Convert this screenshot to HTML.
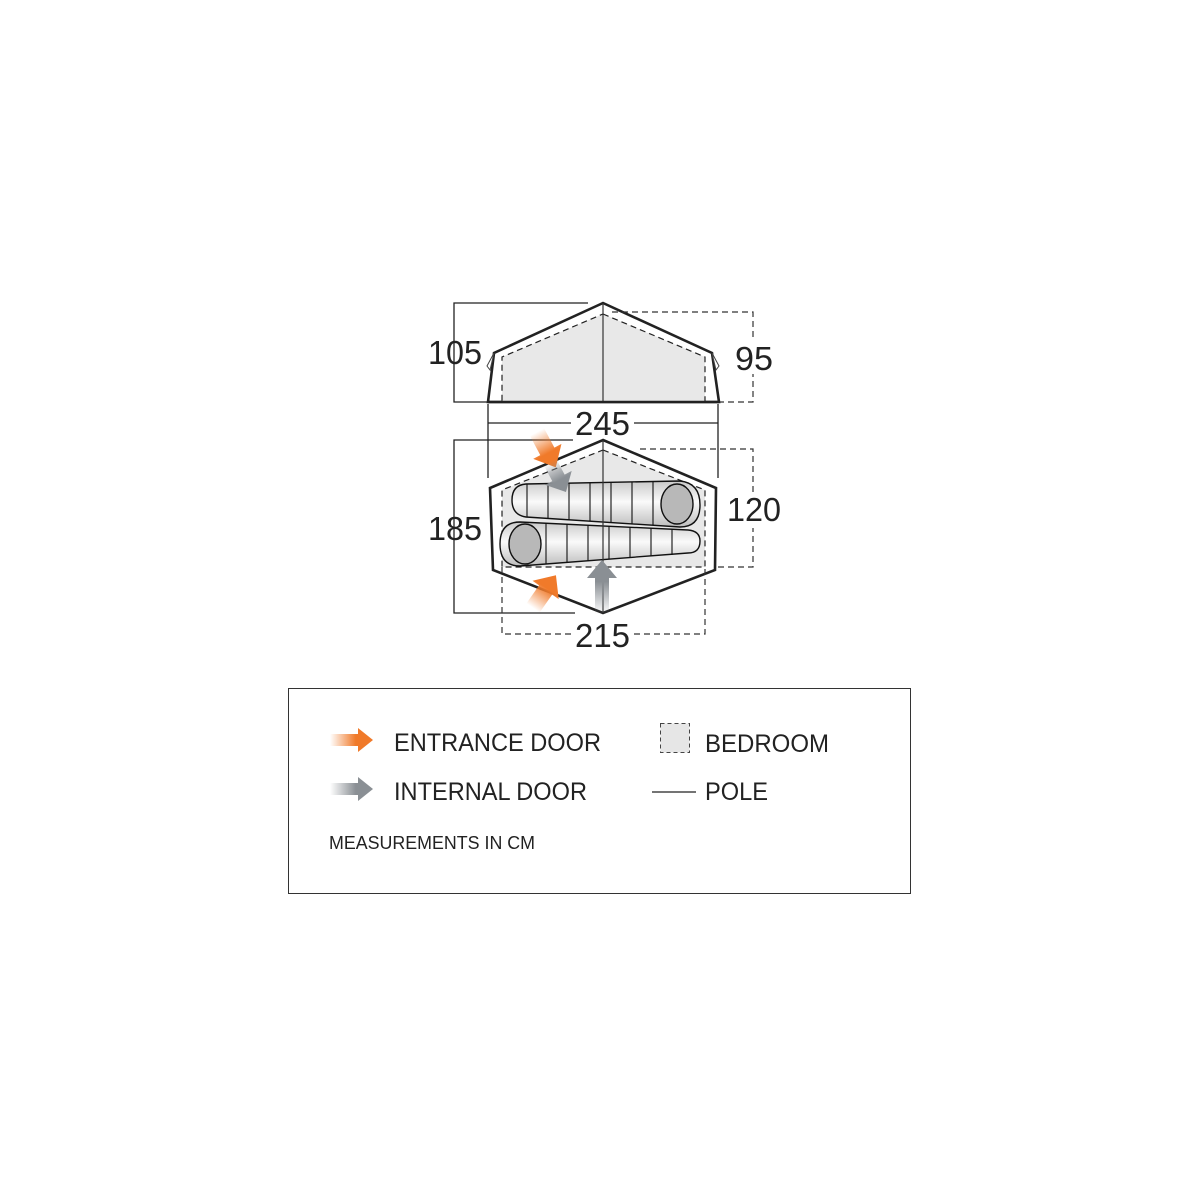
<!DOCTYPE html>
<html><head><meta charset="utf-8"><style>html,body{margin:0;padding:0;background:#fff}svg{display:block}</style></head>
<body>
<svg width="1200" height="1200" viewBox="0 0 1200 1200" xmlns="http://www.w3.org/2000/svg" font-family="Liberation Sans, sans-serif">
<defs>
<linearGradient id="bag" x1="0" y1="0" x2="0" y2="1"><stop offset="0" stop-color="#c9c9c9"/><stop offset="0.45" stop-color="#fafafa"/><stop offset="1" stop-color="#bdbdbd"/></linearGradient>
<linearGradient id="org" x1="0" y1="0" x2="1" y2="0"><stop offset="0" stop-color="#f07a2a" stop-opacity="0"/><stop offset="0.6" stop-color="#f07a2a"/><stop offset="1" stop-color="#f07a2a"/></linearGradient>
<linearGradient id="gry" x1="0" y1="0" x2="1" y2="0"><stop offset="0" stop-color="#8a8f94" stop-opacity="0"/><stop offset="0.6" stop-color="#8a8f94"/><stop offset="1" stop-color="#8a8f94"/></linearGradient>
</defs>

<g stroke="#222" stroke-width="1.3" fill="none">
<polyline points="588,303 454,303 454,402 488,402"/>
</g>
<polygon points="603,303 712,353 719,402 488,402 494,353" fill="#fff" stroke="#222" stroke-width="2.6"/>
<polygon points="603,314 705,357 705,402 502,402 502,357" fill="#e8e8e8" stroke="#222" stroke-width="1.2" stroke-dasharray="6,4"/>
<path d="M494,353 L487,366 L490,370 Z M712,353 L719,366 L716,370 Z" fill="#fff" stroke="#444" stroke-width="1"/>
<line x1="603" y1="303" x2="603" y2="402" stroke="#333" stroke-width="1.2"/>
<line x1="488" y1="402" x2="719" y2="402" stroke="#222" stroke-width="2.6"/>
<polyline points="612,312 753,312 753,402 720,402" fill="none" stroke="#333" stroke-width="1.2" stroke-dasharray="6,4"/>

<g stroke="#222" stroke-width="1.3">
<line x1="488" y1="404" x2="488" y2="478"/>
<line x1="718" y1="404" x2="718" y2="478"/>
<line x1="488" y1="423" x2="571" y2="423"/>
<line x1="634" y1="423" x2="718" y2="423"/>
</g>

<g stroke="#222" stroke-width="1.3" fill="none">
<polyline points="573,440 454,440 454,613 575,613"/>
</g>
<polygon points="603,440 716,488 715,570 603,613 493,570 490,488" fill="#fff" stroke="#222" stroke-width="2.6"/>
<polygon points="603,450 705,490 705,567 502,567 502,490" fill="#e8e8e8" stroke="#222" stroke-width="1.2" stroke-dasharray="6,4"/>
<polyline points="502,567 502,634 572,634" fill="none" stroke="#333" stroke-width="1.2" stroke-dasharray="6,4"/>
<polyline points="634,634 705,634 705,567" fill="none" stroke="#333" stroke-width="1.2" stroke-dasharray="6,4"/>
<polyline points="640,449 753,449 753,567 718,567" fill="none" stroke="#333" stroke-width="1.2" stroke-dasharray="6,4"/>

<g stroke="#111" stroke-width="1.4">
<path d="M526,484 L680,481 Q700,483 700,505 Q700,527 680,527 L526,517 Q512,515 512,500 Q512,485 526,484 Z" fill="url(#bag)"/>
<g stroke-width="1.1"><line x1="527" y1="484" x2="527" y2="517"/><line x1="548" y1="484" x2="548" y2="519"/><line x1="569" y1="483" x2="569" y2="520"/><line x1="590" y1="483" x2="590" y2="521"/><line x1="611" y1="482" x2="611" y2="523"/><line x1="632" y1="482" x2="632" y2="524"/><line x1="653" y1="481" x2="653" y2="525"/></g>
<ellipse cx="677" cy="504" rx="16" ry="20" fill="#b8b8b8"/>
<path d="M520,522 L688,530 Q700,531 700,541 Q700,553 688,553 L520,566 Q500,566 500,544 Q500,522 520,522 Z" fill="url(#bag)"/>
<g stroke-width="1.1"><line x1="546" y1="523" x2="546" y2="564"/><line x1="567" y1="524" x2="567" y2="563"/><line x1="588" y1="525" x2="588" y2="561"/><line x1="609" y1="526" x2="609" y2="559"/><line x1="630" y1="527" x2="630" y2="558"/><line x1="651" y1="528" x2="651" y2="556"/><line x1="672" y1="529" x2="672" y2="555"/></g>
<ellipse cx="525" cy="544" rx="16" ry="20" fill="#b8b8b8"/>
</g>
<line x1="603" y1="440" x2="603" y2="613" stroke="#333" stroke-width="1.2"/>

<g transform="translate(537,432) rotate(62)"><path d="M0,-8 L22,-8 L22,-16 L40,0 L22,16 L22,8 L0,8 Z" fill="url(#org)"/></g>
<g transform="translate(550,462) rotate(62)"><path d="M0,-7 L18,-7 L18,-15 L34,0 L18,15 L18,7 L0,7 Z" fill="url(#gry)"/></g>
<g transform="translate(533,608) rotate(-55)"><path d="M0,-8 L22,-8 L22,-16 L40,0 L22,16 L22,8 L0,8 Z" fill="url(#org)"/></g>
<g transform="translate(602,614) rotate(-90)"><path d="M0,-7 L36,-7 L36,-15 L54,0 L36,15 L36,7 L0,7 Z" fill="url(#gry)"/></g>

<rect x="733" y="340" width="42" height="34" fill="#fff"/>
<rect x="725" y="494" width="58" height="34" fill="#fff"/>
<g font-size="33" fill="#222">
<text x="428" y="364" textLength="54" lengthAdjust="spacingAndGlyphs">105</text>
<text x="735" y="370" textLength="38" lengthAdjust="spacingAndGlyphs">95</text>
<text x="575" y="435" textLength="55" lengthAdjust="spacingAndGlyphs">245</text>
<text x="428" y="540" textLength="54" lengthAdjust="spacingAndGlyphs">185</text>
<text x="727" y="521" textLength="54" lengthAdjust="spacingAndGlyphs">120</text>
<text x="575" y="647" textLength="55" lengthAdjust="spacingAndGlyphs">215</text>
</g>

<rect x="288.5" y="688.5" width="622" height="205" fill="#fff" stroke="#333" stroke-width="1"/>
<path d="M330,734 L358,734 L358,728 L373,740 L358,752 L358,746 L330,746 Z" fill="url(#org)"/>
<path d="M330,783 L358,783 L358,777 L373,789 L358,801 L358,795 L330,795 Z" fill="url(#gry)"/>
<g font-size="25" fill="#222">
<text x="394" y="751" textLength="207" lengthAdjust="spacingAndGlyphs">ENTRANCE DOOR</text>
<text x="394" y="800" textLength="193" lengthAdjust="spacingAndGlyphs">INTERNAL DOOR</text>
<text x="705" y="752" textLength="124" lengthAdjust="spacingAndGlyphs">BEDROOM</text>
<text x="705" y="800" textLength="63" lengthAdjust="spacingAndGlyphs">POLE</text>
</g>
<rect x="660.5" y="723.5" width="29" height="29" fill="#e6e6e6" stroke="#444" stroke-width="1" stroke-dasharray="4,3"/>
<line x1="652" y1="792" x2="696" y2="792" stroke="#222" stroke-width="1.3"/>
<text x="329" y="849" font-size="18" fill="#222" textLength="206" lengthAdjust="spacingAndGlyphs">MEASUREMENTS IN CM</text>
</svg>
</body></html>
